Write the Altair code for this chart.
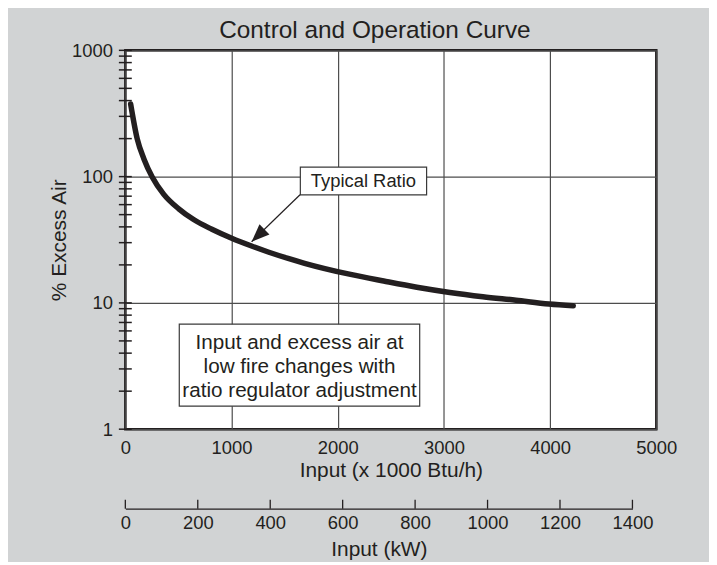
import altair as alt
import pandas as pd

# ---------------- data ----------------
# Typical ratio curve: input (x 1000 Btu/h) vs % excess air
btu_input = [50, 112, 175, 253, 362, 503, 643, 815, 1002, 1189, 1345, 1533,
             1688, 2121, 2433, 2745, 3056, 3367, 3679, 3990, 4218]
excess_air = [376, 199, 138, 99.3, 72.4, 55.6, 45.7, 38.3, 32.5, 28.2, 25.3,
              22.5, 20.6, 16.8, 14.9, 13.3, 12.1, 11.2, 10.5, 9.8, 9.5]

x_ticks = [0, 1000, 2000, 3000, 4000, 5000]
y_major = [1, 10, 100, 1000]
y_minor = [1, 2, 3, 4, 5, 6, 7, 8, 9,
           10, 20, 30, 40, 50, 60, 70, 80, 90,
           100, 200, 300, 400, 500, 600, 700, 800, 900, 1000]
kw_ticks = [0, 200, 400, 600, 800, 1000, 1200, 1400]

# annotation: "Typical Ratio" box and arrow (data units)
ratio_box_x = [1648, 2837]
ratio_box_y = [71.6, 119]
ratio_label = "Typical Ratio"
ratio_label_pos = [2242, 92.3]
arrow_start = [1645, 71.9]
arrow_tip = [1189, 30.5]

# annotation: note box (data units)
note_box_x = [508, 2772]
note_box_y = [1.52, 6.78]
note_lines = ["Input and excess air at", "low fire changes with",
              "ratio regulator adjustment"]
note_pos = [1640, 4.80]

DARK = "#231f20"
GRID = "#4d4d4d"
FONT = "Liberation Sans"
BG = "#d1d3d4"

x_scale = alt.Scale(type="linear", domain=[0, 5000], nice=False, zero=True)
y_scale = alt.Scale(type="log", domain=[1, 1000], nice=False)

x_axis = alt.Axis(values=x_ticks, title="Input (x 1000 Btu/h)", format="d",
                  grid=True, gridColor=GRID, gridWidth=1.2, gridOpacity=1,
                  ticks=False, tickSize=0, domain=False, labelPadding=9,
                  titlePadding=3, labelFlush=False, labelOverlap=False)
y_axis = alt.Axis(values=y_major, title="% Excess Air", format="d",
                  grid=True, gridColor=GRID, gridWidth=1.2, gridOpacity=1,
                  ticks=False, tickSize=0, domain=False, labelPadding=13,
                  titlePadding=2, labelFlush=False, labelOverlap=False)


def X(field):
    return alt.X(field, type="quantitative", scale=x_scale, axis=x_axis)


def Y(field):
    return alt.Y(field, type="quantitative", scale=y_scale, axis=y_axis)


curve_df = pd.DataFrame({"x": btu_input, "y": excess_air})
curve = alt.Chart(curve_df).mark_line(
    color=DARK, strokeWidth=5.5, strokeCap="round", strokeJoin="round",
    interpolate="monotone"
).encode(x=X("x"), y=Y("y"))

minor_df = pd.DataFrame({"v": y_minor})
minor = alt.Chart(minor_df).mark_tick(
    orient="horizontal", size=13, thickness=1.5, color=DARK, opacity=1
).encode(
    x=alt.XDatum(0, type="quantitative", scale=x_scale, axis=x_axis),
    y=Y("v"),
)

rbox_df = pd.DataFrame({"x1": [ratio_box_x[0]], "x2": [ratio_box_x[1]],
                        "y1": [ratio_box_y[0]], "y2": [ratio_box_y[1]]})
rbox = alt.Chart(rbox_df).mark_rect(
    fill="white", stroke="#3a3a3a", strokeWidth=1.2
).encode(x=X("x1"), x2="x2", y=Y("y1"), y2="y2")

rtext_df = pd.DataFrame({"x": [ratio_label_pos[0]], "y": [ratio_label_pos[1]],
                         "t": [ratio_label]})
rtext = alt.Chart(rtext_df).mark_text(
    font=FONT, fontSize=18.5, color=DARK, align="center", baseline="middle"
).encode(x=X("x"), y=Y("y"), text="t:N")

arrow_df = pd.DataFrame({"x1": [arrow_start[0]], "y1": [arrow_start[1]],
                         "x2": [arrow_tip[0]], "y2": [arrow_tip[1]]})
arrow_line = alt.Chart(arrow_df).mark_rule(
    color=DARK, strokeWidth=1.2
).encode(x=X("x1"), y=Y("y1"), x2="x2", y2="y2")

head_df = pd.DataFrame({"x": [arrow_tip[0]], "y": [arrow_tip[1]]})
arrow_head = alt.Chart(head_df).mark_point(
    shape="M0,0L0.8,2L-0.8,2Z", filled=True, size=324, angle=226,
    color=DARK, opacity=1, strokeWidth=0
).encode(x=X("x"), y=Y("y"))

nbox_df = pd.DataFrame({"x1": [note_box_x[0]], "x2": [note_box_x[1]],
                        "y1": [note_box_y[0]], "y2": [note_box_y[1]]})
nbox = alt.Chart(nbox_df).mark_rect(
    fill="white", stroke="#3a3a3a", strokeWidth=1.2
).encode(x=X("x1"), x2="x2", y=Y("y1"), y2="y2")

ntext_df = pd.DataFrame({"x": [note_pos[0]], "y": [note_pos[1]],
                         "t": ["\n".join(note_lines)]})
ntext = alt.Chart(ntext_df).mark_text(
    font=FONT, fontSize=20.8, color=DARK, align="center", baseline="middle",
    lineBreak="\n", lineHeight=24
).encode(x=X("x"), y=Y("y"), text="t:N")

main = alt.layer(
    curve, rbox, rtext, arrow_line, arrow_head, nbox, ntext, minor
).properties(
    width=534, height=381,
    view=alt.ViewBackground(fill="white", stroke=DARK, strokeWidth=2.5),
    title=alt.TitleParams("Control and Operation Curve", fontSize=24.5,
                          font=FONT, fontWeight="normal", color=DARK,
                          anchor="middle", frame="group", dx=-16, offset=-2),
)

kw_df = pd.DataFrame({"kw": kw_ticks})
kw_chart = alt.Chart(kw_df).mark_tick(
    orient="vertical", size=9, thickness=1.3, color=DARK, opacity=1
).encode(
    x=alt.X("kw:Q", scale=alt.Scale(domain=[0, 1400], nice=False, zero=True),
            axis=alt.Axis(values=kw_ticks, title="Input (kW)", format="d",
                          grid=False, ticks=False, tickSize=0, domain=True,
                          domainColor=DARK, domainWidth=1.3, labelPadding=5,
                          titlePadding=7, labelFlush=False,
                          labelOverlap=False))
).properties(
    width=510, height=9,
    view=alt.ViewBackground(fill="transparent", stroke="transparent"),
)

chart = alt.vconcat(main, kw_chart, spacing=17).properties(
    padding={"left": 39, "top": 7, "right": 31, "bottom": 0},
    background=BG,
).configure_axis(
    labelFont=FONT, titleFont=FONT, labelFontSize=18.5, titleFontSize=21,
    labelColor=DARK, titleColor=DARK, titleFontWeight="normal",
).configure_view(stroke="transparent")

chart.save("out.html", embed_options={"renderer": "svg", "actions": False})
